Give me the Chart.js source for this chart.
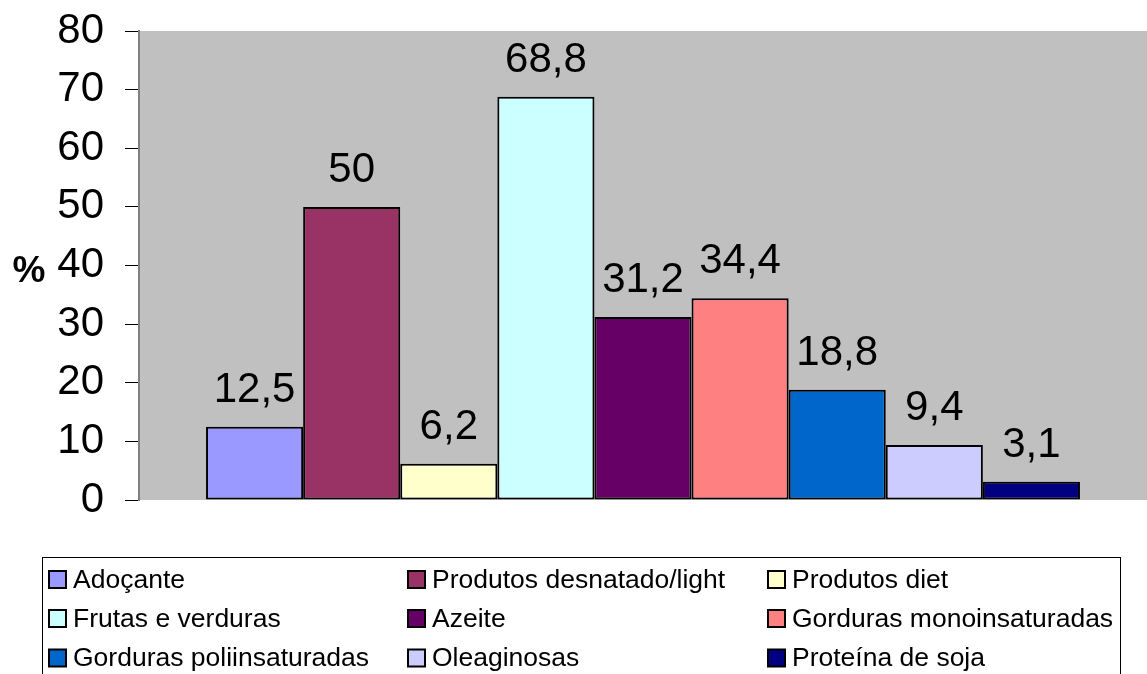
<!DOCTYPE html>
<html>
<head>
<meta charset="utf-8">
<script src="https://cdn.jsdelivr.net/npm/chart.js@4"></script>
<style>
  html, body { margin: 0; padding: 0; background: #fff; }
  #wrap { width: 1147px; height: 674px; position: relative; }
</style>
</head>
<body>
<div id="wrap"><canvas id="chart-alimentos"></canvas></div>
<script>
// data
var seriesNames = ['Adoçante', 'Produtos desnatado/light', 'Produtos diet',
    'Frutas e verduras', 'Azeite', 'Gorduras monoinsaturadas',
    'Gorduras poliinsaturadas', 'Oleaginosas', 'Proteína de soja'];
var seriesValues = [12.5, 50, 6.2, 68.8, 31.2, 34.4, 18.8, 9.4, 3.1];
var seriesColors = ['#9999FF', '#993366', '#FFFFCC', '#CCFFFF', '#660066',
    '#FF8080', '#0066CC', '#CCCCFF', '#000080'];
var categories = [''];
var yTicks = [0, 10, 20, 30, 40, 50, 60, 70, 80];

var font = '"Liberation Sans", Arial, sans-serif';

var datasets = [];
for (let i = 0; i < seriesNames.length; i++) {
    datasets.push({
        label: seriesNames[i],
        data: [seriesValues[i]],
        backgroundColor: seriesColors[i],
        borderColor: '#000',
        borderWidth: 2,
        borderSkipped: false,
        barPercentage: 1,
        categoryPercentage: 0.867
    });
}

// gray plot background
var plotBg = {
    id: 'plotBg',
    beforeDraw: function (chart) {
        var a = chart.chartArea, ctx = chart.ctx;
        ctx.save();
        ctx.fillStyle = '#C0C0C0';
        ctx.fillRect(a.left, a.top, a.right - a.left, a.bottom - a.top);
        ctx.restore();
    }
};

// value labels over bars, "%" title and the boxed legend
var extras = {
    id: 'extras',
    afterDatasetsDraw: function (chart) {
        var ctx = chart.ctx;
        ctx.save();
        ctx.fillStyle = '#000';
        ctx.font = '42px ' + font;
        ctx.textAlign = 'center';
        ctx.textBaseline = 'alphabetic';
        chart.data.datasets.forEach(function (ds, i) {
            var bar = chart.getDatasetMeta(i).data[0];
            ctx.fillText(String(ds.data[0]).replace('.', ','), bar.x, bar.y - 25);
        });

        ctx.font = 'bold 37px ' + font;
        ctx.textBaseline = 'middle';
        ctx.fillText('%', 29, 272);

        // legend
        ctx.strokeStyle = '#000';
        ctx.lineWidth = 1;
        ctx.strokeRect(42.5, 557.5, 1078, 140);
        var colX = [49, 408, 768];
        var rowY = [579.5, 618.5, 658];
        ctx.font = '26.5px ' + font;
        ctx.textAlign = 'left';
        chart.data.datasets.forEach(function (ds, i) {
            var x = colX[i % 3], y = rowY[Math.floor(i / 3)];
            ctx.fillStyle = ds.backgroundColor;
            ctx.fillRect(x, y - 8.5, 17, 17);
            ctx.lineWidth = 2;
            ctx.strokeRect(x, y - 8.5, 17, 17);
            ctx.fillStyle = '#000';
            ctx.fillText(ds.label, x + 24, y + 1);
        });
        ctx.restore();
    }
};

new Chart(document.getElementById('chart-alimentos').getContext('2d'), {
    type: 'bar',
    data: { labels: categories, datasets: datasets },
    plugins: [plotBg, extras],
    options: {
        responsive: true,
        maintainAspectRatio: false,
        animation: false,
        layout: { padding: { top: 31, right: 0, bottom: 174, left: 0 } },
        plugins: { legend: { display: false }, tooltip: { enabled: false } },
        scales: {
            x: {
                display: false
            },
            y: {
                min: 0,
                max: 80,
                afterFit: function (scale) {
                    scale.width = 139;
                    scale.paddingTop = 0;
                    scale.paddingBottom = 0;
                },
                afterBuildTicks: function (scale) {
                    scale.ticks = yTicks.map(function (v) { return { value: v }; });
                },
                ticks: {
                    color: '#000',
                    padding: 21,
                    font: { family: font, size: 42 }
                },
                grid: {
                    drawOnChartArea: false,
                    drawTicks: true,
                    tickLength: 14,
                    color: '#000',
                    lineWidth: 1
                },
                border: { color: '#808080', width: 2 }
            }
        }
    }
});
</script>
</body>
</html>
